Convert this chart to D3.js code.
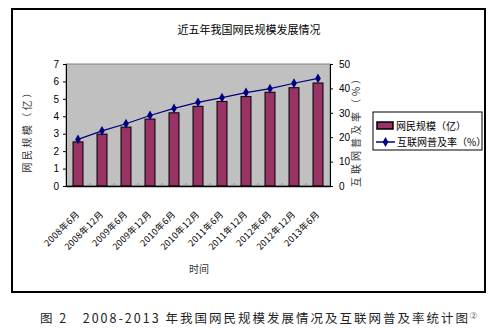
<!DOCTYPE html>
<html>
<head>
<meta charset="utf-8">
<script src="https://cdn.jsdelivr.net/npm/d3@7"></script>
<style>
  html, body { margin: 0; padding: 0; background: #fff; }
  svg { display: block; }
  text { font-family: "Noto Sans CJK SC", "Liberation Sans", sans-serif; fill: #000; }
  .num { font-family: "Liberation Sans Narrow", "Liberation Sans", Arial, sans-serif; }
</style>
</head>
<body>
<svg id="chart" width="493" height="332"></svg>
<script>
// Survey periods (half-yearly)
const periods = ["2008年6月", "2008年12月", "2009年6月", "2009年12月", "2010年6月", "2010年12月",
                 "2011年6月", "2011年12月", "2012年6月", "2012年12月", "2013年6月"];
// Internet users, 100 million (亿)
const users = [2.53, 2.98, 3.38, 3.84, 4.20, 4.57, 4.85, 5.13, 5.38, 5.64, 5.91];
// Internet penetration rate, %
const penetration = [19.1, 22.6, 25.5, 28.9, 31.8, 34.3, 36.2, 38.3, 39.9, 42.1, 44.1];
const leftTicks = [0, 1, 2, 3, 4, 5, 6, 7];
const rightTicks = [0, 10, 20, 30, 40, 50];

const svg = d3.select("#chart");
const plot = { left: 66, top: 64, right: 330, bottom: 186 };

// outer frame
svg.append("rect").attr("x", 12).attr("y", 9).attr("width", 473).attr("height", 283)
  .attr("fill", "#fff").attr("stroke", "#000").attr("stroke-width", 2);

// plot background
svg.append("rect").attr("x", plot.left).attr("y", plot.top)
  .attr("width", plot.right - plot.left).attr("height", plot.bottom - plot.top)
  .attr("fill", "#c0c0c0").attr("stroke", "#808080").attr("stroke-width", 1);

const x = d3.scaleBand().domain(periods).range([plot.left, plot.right]).paddingInner(0).paddingOuter(0);
const yL = d3.scaleLinear().domain([0, 7]).range([plot.bottom, plot.top]);
const yR = d3.scaleLinear().domain([0, 50]).range([plot.bottom, plot.top]);

// bars
const barW = 10;
svg.append("g").selectAll("rect").data(users).join("rect")
  .attr("x", (d, i) => x(periods[i]) + x.bandwidth() / 2 - barW / 2)
  .attr("y", d => yL(d))
  .attr("width", barW)
  .attr("height", d => plot.bottom - yL(d))
  .attr("fill", "#993366").attr("stroke", "#000").attr("stroke-width", 1);

// penetration line
const cx = i => x(periods[i]) + x.bandwidth() / 2;
svg.append("path").datum(penetration)
  .attr("d", d3.line().x((d, i) => cx(i)).y(d => yR(d)))
  .attr("fill", "none").attr("stroke", "#000080").attr("stroke-width", 1.2);
const diamond = d3.symbol().type(d3.symbolDiamond).size(28);
svg.append("g").selectAll("path").data(penetration).join("path")
  .attr("d", diamond)
  .attr("transform", (d, i) => `translate(${cx(i)},${yR(d)})`)
  .attr("fill", "#000080");

// left axis
const axL = svg.append("g").attr("transform", `translate(${plot.left},0)`)
  .call(d3.axisLeft(yL).tickValues(leftTicks).tickSize(3).tickPadding(4).tickFormat(d3.format("d")));
axL.select(".domain").attr("stroke", "#000");
axL.selectAll("text").attr("class", "num").style("font-size", "10px");

// right axis
const axR = svg.append("g").attr("transform", `translate(${plot.right},0)`)
  .call(d3.axisRight(yR).tickValues(rightTicks).tickSize(3).tickPadding(6).tickFormat(d3.format("d")));
axR.select(".domain").attr("stroke", "#000");
axR.selectAll("text").attr("class", "num").style("font-size", "10px");

// bottom axis
const axB = svg.append("g").attr("transform", `translate(0,${plot.bottom})`)
  .call(d3.axisBottom(x).tickSize(0).tickFormat(""));
axB.select(".domain").attr("stroke", "#000").attr("stroke-width", 1.5);
svg.append("g").selectAll("line").data(periods.slice(1)).join("line")
  .attr("x1", d => x(d)).attr("x2", d => x(d))
  .attr("y1", plot.bottom).attr("y2", plot.bottom - 3)
  .attr("stroke", "#888");

// category labels
svg.append("g").selectAll("text").data(periods).join("text")
  .attr("transform", (d, i) => `translate(${cx(i) + 2},${plot.bottom + 29}) rotate(-45)`)
  .attr("text-anchor", "end")
  .style("font-size", "9px")
  .style("letter-spacing", "0.3px")
  .text(d => d);

// titles
svg.append("text").attr("x", 249).attr("y", 34).attr("text-anchor", "middle")
  .style("font-size", "11px").text("近五年我国网民规模发展情况");
svg.append("text").attr("x", 199).attr("y", 273).attr("text-anchor", "middle")
  .style("font-size", "10px").style("fill", "#333").text("时间");
svg.append("text").attr("transform", "translate(31,129) rotate(-90)").attr("text-anchor", "middle")
  .style("font-size", "10px").style("letter-spacing", "2.5px").style("fill", "#333").text("网民规模（亿）");
svg.append("text").attr("transform", "translate(360,129) rotate(-90)").attr("text-anchor", "middle")
  .style("font-size", "10px").style("letter-spacing", "3px").style("fill", "#333").text("互联网普及率（%）");

// legend
const lg = svg.append("g").attr("transform", "translate(373,112)");
lg.append("rect").attr("width", 109).attr("height", 38).attr("fill", "#fff").attr("stroke", "#000");
lg.append("rect").attr("x", 4).attr("y", 10).attr("width", 16).attr("height", 7)
  .attr("fill", "#993366").attr("stroke", "#000").attr("stroke-width", 1.5);
lg.append("text").attr("x", 23).attr("y", 18).style("font-size", "10px").text("网民规模（亿）");
lg.append("line").attr("x1", 3).attr("x2", 22).attr("y1", 30).attr("y2", 30)
  .attr("stroke", "#000080").attr("stroke-width", 1.5);
lg.append("path").attr("d", diamond).attr("transform", "translate(12.5,30)").attr("fill", "#000080");
lg.append("text").attr("x", 24).attr("y", 34).style("font-size", "10px").text("互联网普及率（%）");

// caption
svg.append("text").attr("x", 40).attr("y", 323).style("font-size", "12.5px").style("fill", "#222")
  .style("letter-spacing", "2px")
  .text("图 2　2008-2013 年我国网民规模发展情况及互联网普及率统计图")
  .append("tspan").attr("dy", -5).style("font-size", "7px").style("letter-spacing", "0px").text("②");
</script>
</body>
</html>
